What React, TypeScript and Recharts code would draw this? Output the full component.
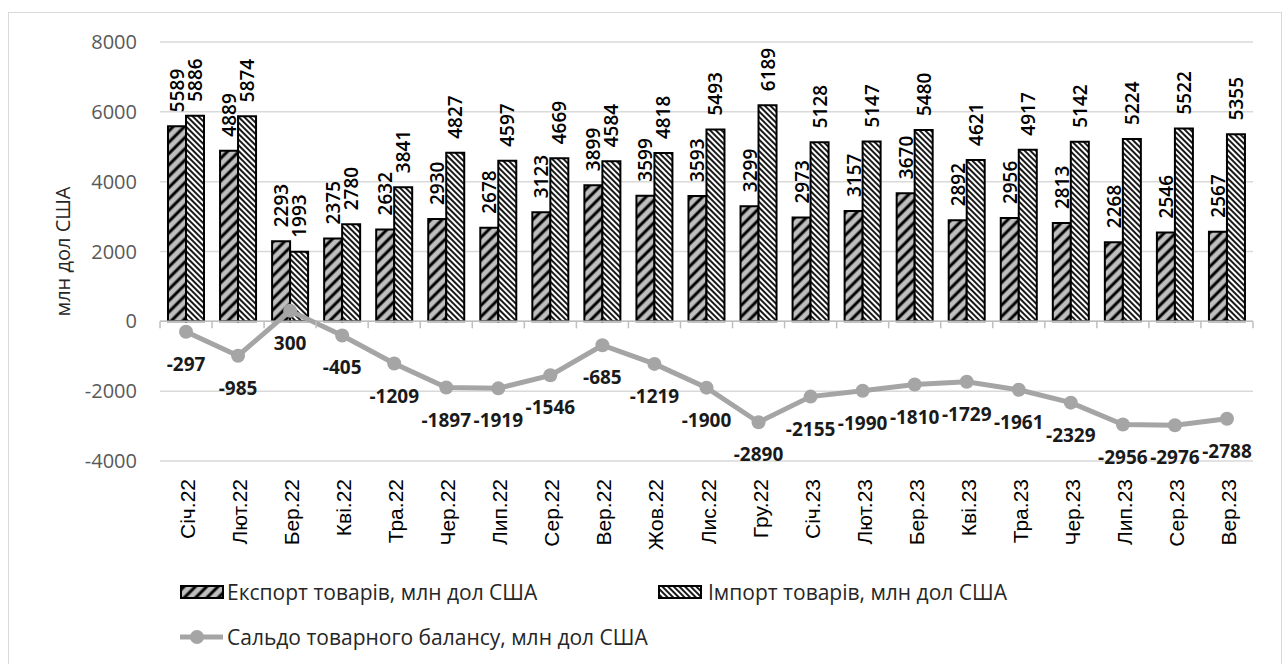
import React from 'react'
import {
  ComposedChart, Bar, Line, XAxis, YAxis, CartesianGrid, ReferenceLine, LabelList,
} from 'recharts'

const months = [
  'Січ.22', 'Лют.22', 'Бер.22', 'Кві.22', 'Тра.22', 'Чер.22', 'Лип.22', 'Сер.22', 'Вер.22', 'Жов.22', 'Лис.22',
  'Гру.22', 'Січ.23', 'Лют.23', 'Бер.23', 'Кві.23', 'Тра.23', 'Чер.23', 'Лип.23', 'Сер.23', 'Вер.23',
]
const exportValues = [5589, 4889, 2293, 2375, 2632, 2930, 2678, 3123, 3899, 3599, 3593, 3299, 2973, 3157, 3670, 2892, 2956, 2813, 2268, 2546, 2567]
const importValues = [5886, 5874, 1993, 2780, 3841, 4827, 4597, 4669, 4584, 4818, 5493, 6189, 5128, 5147, 5480, 4621, 4917, 5142, 5224, 5522, 5355]
const balanceValues = [-297, -985, 300, -405, -1209, -1897, -1919, -1546, -685, -1219, -1900, -2890, -2155, -1990, -1810, -1729, -1961, -2329, -2956, -2976, -2788]
const yTicks = [-4000, -2000, 0, 2000, 4000, 6000, 8000]

const exportName = 'Експорт товарів, млн дол США'
const importName = 'Імпорт товарів, млн дол США'
const balanceName = 'Сальдо товарного балансу, млн дол США'

const data = months.map((m, i) => ({
  month: m,
  exp: exportValues[i],
  imp: importValues[i],
  bal: balanceValues[i],
}))

// layout of the plot area (page coords)
const PLOT_LEFT = 160
const PLOT_RIGHT = 1253
const PLOT_TOP = 42
const PLOT_BOTTOM = 461
const ZERO_Y = PLOT_TOP + (8000 / 12000) * (PLOT_BOTTOM - PLOT_TOP)
const STEP = (PLOT_RIGHT - PLOT_LEFT) / months.length

const FONT = '"Open Sans", "DejaVu Sans", sans-serif'

function MonthTick({ x, payload, index }: any) {
  const left = x - STEP / 2
  return (
    <g>
      <line x1={left} x2={left} y1={ZERO_Y} y2={ZERO_Y + 7} stroke="#bfbfbf" strokeWidth={1.5} />
      {index === months.length - 1 && (
        <line x1={x + STEP / 2} x2={x + STEP / 2} y1={ZERO_Y} y2={ZERO_Y + 7} stroke="#bfbfbf" strokeWidth={1.5} />
      )}
      <text
        transform={`translate(${x + 9},${PLOT_BOTTOM + 18}) rotate(-90)`}
        textAnchor="end"
        fontSize={21}
        fontFamily='"Liberation Sans", Arial, sans-serif'
        fill="#000"
      >
        {payload.value}
      </text>
    </g>
  )
}

function BarValueLabel({ x, y, width, value }: any) {
  const cx = x + width / 2
  return (
    <text
      transform={`translate(${cx + 7},${y - 14}) rotate(-90)`}
      textAnchor="start"
      fontSize={19}
      fontWeight={600}
      fontFamily={FONT}
      fill="#000"
    >
      {value}
    </text>
  )
}

function BalanceLabel({ x, y, value }: any) {
  return (
    <text x={x} y={y + 39} textAnchor="middle" fontSize={19} fontWeight={700} fontFamily={FONT} fill="#1a1a1a">
      {value}
    </text>
  )
}

function AxisTitle({ viewBox }: any) {
  const cy = viewBox.y + viewBox.height / 2
  return (
    <text
      transform={`translate(70,${cy}) rotate(-90)`}
      textAnchor="middle"
      fontSize={20}
      fontFamily={FONT}
      fill="#262626"
    >
      млн дол США
    </text>
  )
}

function Swatch({ kind }: { kind: 'exp' | 'imp' }) {
  return (
    <svg width={44} height={14} style={{ display: 'block' }}>
      <defs>
        <pattern id="legExp" patternUnits="userSpaceOnUse" width="8" height="8" patternTransform="rotate(45)">
          <rect width="8" height="8" fill="#bfbfbf" />
          <line x1="4" y1="0" x2="4" y2="8" stroke="#000" strokeWidth="3" />
        </pattern>
        <pattern id="legImp" patternUnits="userSpaceOnUse" width="4" height="4" patternTransform="rotate(-45)">
          <rect width="4" height="4" fill="#fff" />
          <line x1="2" y1="0" x2="2" y2="4" stroke="#000" strokeWidth="1.8" />
        </pattern>
      </defs>
      <rect x={1} y={1} width={42} height={12} fill={kind === 'exp' ? 'url(#legExp)' : 'url(#legImp)'} stroke="#000" strokeWidth={2} />
    </svg>
  )
}

const legendText: React.CSSProperties = {
  position: 'absolute',
  fontFamily: FONT,
  fontSize: 21,
  color: '#262626',
  whiteSpace: 'nowrap',
  lineHeight: '26px',
}

export default function App() {
  return (
    <div style={{ position: 'absolute', left: 0, top: 0, width: 1284, height: 664, overflow: 'hidden', background: '#fff' }}>
      <div style={{ position: 'absolute', left: 8, top: 12, width: 1272, height: 700, border: '1.5px solid #d9d9d9' }} />
      <div style={{ position: 'absolute', left: 0, top: 0 }}>
        <ComposedChart
          width={1284}
          height={664}
          data={data}
          margin={{ top: PLOT_TOP, right: 1284 - PLOT_RIGHT, bottom: 103, left: 0 }}
          barGap={0}
          barSize={18}
        >
          <defs>
            <pattern id="expHatch" patternUnits="userSpaceOnUse" width="8" height="8" patternTransform="rotate(45)">
              <rect width="8" height="8" fill="#bfbfbf" />
              <line x1="4" y1="0" x2="4" y2="8" stroke="#000" strokeWidth="3" />
            </pattern>
            <pattern id="impHatch" patternUnits="userSpaceOnUse" width="4" height="4" patternTransform="rotate(-45)">
              <rect width="4" height="4" fill="#fff" />
              <line x1="2" y1="0" x2="2" y2="4" stroke="#000" strokeWidth="1.8" />
            </pattern>
          </defs>
          <CartesianGrid vertical={false} stroke="#d9d9d9" strokeWidth={1.5} />
          <XAxis
            dataKey="month"
            axisLine={false}
            tickLine={false}
            height={100}
            interval={0}
            tick={<MonthTick />}
          />
          <YAxis
            domain={[-4000, 8000]}
            ticks={yTicks}
            axisLine={false}
            tickLine={false}
            width={PLOT_LEFT}
            tickMargin={17}
            tick={{ fontSize: 20, fill: '#595959', fontFamily: FONT }}
            label={<AxisTitle />}
          />
          <ReferenceLine y={0} stroke="#bfbfbf" strokeWidth={1.5} />
          <Bar dataKey="exp" name={exportName} fill="url(#expHatch)" stroke="#000" strokeWidth={2} isAnimationActive={false}>
            <LabelList dataKey="exp" content={<BarValueLabel />} />
          </Bar>
          <Bar dataKey="imp" name={importName} fill="url(#impHatch)" stroke="#000" strokeWidth={2} isAnimationActive={false}>
            <LabelList dataKey="imp" content={<BarValueLabel />} />
          </Bar>
          <Line
            dataKey="bal"
            name={balanceName}
            stroke="#a5a5a5"
            strokeWidth={5}
            dot={{ r: 7, fill: '#a5a5a5', stroke: 'none' }}
            isAnimationActive={false}
          >
            <LabelList dataKey="bal" content={<BalanceLabel />} />
          </Line>
        </ComposedChart>
      </div>

      {/* legend */}
      <div style={{ position: 'absolute', left: 180, top: 585 }}><Swatch kind="exp" /></div>
      <div style={{ ...legendText, left: 227, top: 579 }}>{exportName}</div>
      <div style={{ position: 'absolute', left: 658, top: 585 }}><Swatch kind="imp" /></div>
      <div style={{ ...legendText, left: 708, top: 579 }}>{importName}</div>
      <svg style={{ position: 'absolute', left: 180, top: 629 }} width={44} height={16}>
        <line x1={0} y1={8} x2={43} y2={8} stroke="#a5a5a5" strokeWidth={5} />
        <circle cx={17} cy={8} r={7} fill="#a5a5a5" />
      </svg>
      <div style={{ ...legendText, left: 227, top: 624 }}>{balanceName}</div>
    </div>
  )
}
